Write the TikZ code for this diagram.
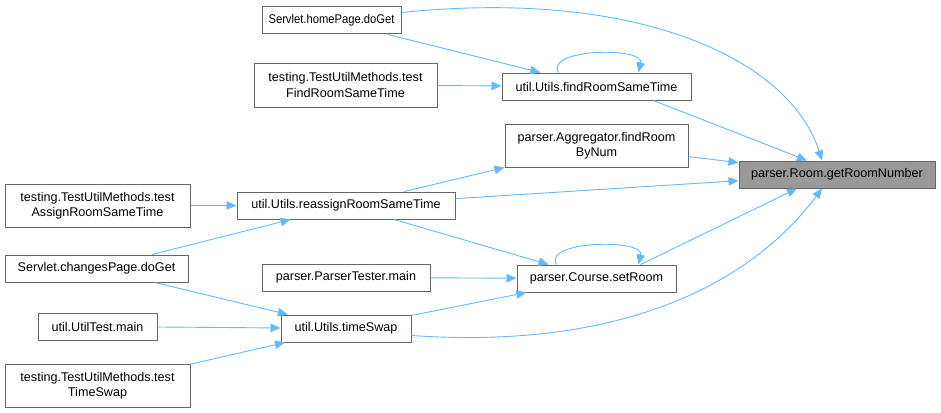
\documentclass[tikz,border=0pt]{standalone}
\usepackage{fontspec}
\setmainfont{Liberation Sans}
\usepackage{tikz}
\usetikzlibrary{arrows.meta, positioning, calc}
\definecolor{callblue}{RGB}{99,184,255}
\definecolor{boxgray}{RGB}{102,102,102}
\definecolor{rootfill}{RGB}{153,153,153}
\tikzset{
  func/.style={rectangle, draw=boxgray, fill=white, line width=1pt,
    inner sep=0pt, align=center, text=black,
    font=\fontsize{12.6}{15.5}\selectfont, minimum height=27pt},
  rootfunc/.style={func, fill=rootfill},
  callarrow/.style={-{Triangle[length=10pt, width=8.5pt]}, line width=0.9pt,
    color=callblue},
}

\begin{document}
\begin{tikzpicture}[x=1pt, y=-1pt]
  \useasboundingbox (0,0) rectangle (941,412);
  % callee
  \node[rootfunc, minimum width=196pt] (room) at (837,174.5) {parser.Room.getRoomNumber};
  % direct callers
  \node[func, minimum width=189pt] (find) at (596.5,86.5) {util.Utils.findRoomSameTime};
  \node[func, minimum width=183pt, minimum height=43pt] (bynum) at (596.5,145.5)
    {parser.Aggregator.findRoom\\ByNum};
  \node[func, minimum width=159pt] (setroom) at (596.5,278.5) {parser.Course.setRoom};
  % middle column
  \node[func, minimum width=139pt] (home) at (331.5,20.5)
    {\scalebox{0.89}[1]{Servlet.homePage.doGet}};
  \node[func, minimum width=183pt, minimum height=44pt] (tfind) at (345.5,85)
    {testing.TestUtilMethods.test\\FindRoomSameTime};
  \node[func, minimum width=218pt] (reassign) at (346,205.5) {util.Utils.reassignRoomSameTime};
  \node[func, minimum width=168pt] (ptester) at (346,277.5) {parser.ParserTester.main};
  \node[func, minimum width=130pt] (timeswap) at (346,328.5) {util.Utils.timeSwap};
  % left column
  \node[func, minimum width=185pt, minimum height=43pt] (tassign) at (97.5,205.5)
    {testing.TestUtilMethods.test\\AssignRoomSameTime};
  \node[func, minimum width=183pt] (changes) at (96.5,268.5) {Servlet.changesPage.doGet};
  \node[func, minimum width=119pt] (utiltest) at (97.5,326.5) {util.UtilTest.main};
  \node[func, minimum width=185pt, minimum height=43pt] (ttswap) at (97.5,385.5)
    {testing.TestUtilMethods.test\\TimeSwap};

  % calls
  \draw[callarrow] ([yshift=8pt]home.east) .. controls (640,-12) and (790,60)
    .. ([xshift=-15pt]room.north);
  \draw[callarrow] (home) -- (find);
  \draw[callarrow] ([xshift=-38pt]find.north) .. controls +(-14,-24) and +(6,-26)
    .. ([xshift=42pt]find.north);
  \draw[callarrow] (tfind) -- (find);
  \draw[callarrow] ([xshift=57pt]find.south) -- ([xshift=-30pt]room.north);
  \draw[callarrow] (bynum) -- (room);
  \draw[callarrow] (reassign) -- (bynum);
  \draw[callarrow] (reassign) -- (room);
  \draw[callarrow] (reassign) -- (setroom);
  \draw[callarrow] (tassign) -- (reassign);
  \draw[callarrow] (changes) -- (reassign);
  \draw[callarrow] (changes) -- (timeswap);
  \draw[callarrow] (utiltest) -- (timeswap);
  \draw[callarrow] (ttswap) -- (timeswap);
  \draw[callarrow] (ptester) -- (setroom);
  \draw[callarrow] (timeswap) -- (setroom);
  \draw[callarrow] ([xshift=-40pt]setroom.north) .. controls +(-14,-24) and +(6,-26)
    .. ([xshift=42pt]setroom.north);
  \draw[callarrow] ([xshift=44pt]setroom.north) -- ([xshift=-40pt]room.south);
  \draw[callarrow] ([yshift=-7pt]timeswap.east) .. controls (620,350) and (750,285)
    .. ([xshift=-15pt]room.south);
\end{tikzpicture}
\end{document}
